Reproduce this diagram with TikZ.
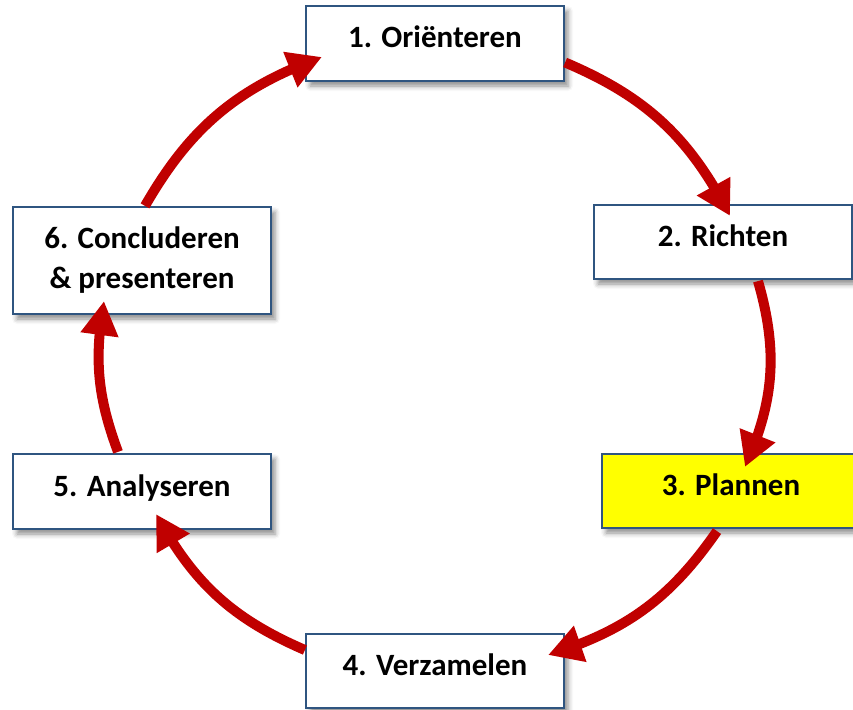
\documentclass[tikz,border=0pt]{standalone}
\usepackage{fontspec}
\setmainfont{Carlito}
\usetikzlibrary{arrows.meta,bending,shadows.blur}
\definecolor{boxblue}{RGB}{47,85,128}
\definecolor{arrred}{RGB}{192,0,0}
\definecolor{boxyellow}{RGB}{255,255,0}
\begin{document}
\begin{tikzpicture}[x=1pt,y=-1pt,
  basebox/.style={draw=boxblue, line width=2.2pt, fill=white,
    minimum width=258pt, minimum height=74pt, inner sep=0pt,
    font=\bfseries\fontsize{31}{40}\selectfont,
    blur shadow={shadow xshift=4pt, shadow yshift=-5pt, shadow blur radius=5pt, shadow opacity=45}},
  stepbox/.style={basebox, text height=20pt, text depth=11pt},
  cyc/.style={draw=arrred, line width=10pt, -{Triangle[length=34pt,width=36pt,flex]}}]
\useasboundingbox (0,0) rectangle (853,709);
\clip (0,0) rectangle (853,709);
\node[stepbox, minimum height=75pt] (o) at (435,43.5) {1. Oriënteren};
\node[stepbox] (r) at (723,242) {2. Richten};
\node[stepbox, fill=boxyellow] (p) at (731,491) {3. Plannen};
\node[stepbox] (v) at (435,671) {4. Verzamelen};
\node[stepbox, minimum height=75pt] (a) at (142,491.5) {5. Analyseren};
\node[basebox, minimum height=107pt, align=center] (c) at (142,260.5) {6. Concluderen\\\& presenteren};
\draw[cyc] ([shift={(0,19)}]o.east) to[bend left=20] ([shift={(7,12)}]r.north);
\draw[cyc] ([shift={(35,1)}]r.south) to[bend left=20] ([shift={(14,14)}]p.north);
\draw[cyc] ([shift={(-14,2)}]p.south) to[bend left=19] ([shift={(-17,-16)}]v.east);
\draw[cyc] ([shift={(0,-21)}]v.west) to[bend left=19] ([shift={(14,-16)}]a.south);
\draw[cyc] ([shift={(-24,-1)}]a.north) to[bend left=15] ([shift={(-38,-14)}]c.south);
\draw[cyc] ([shift={(3,0)}]c.north) to[bend left=20] ([shift={(17,13.5)}]o.west);
\end{tikzpicture}
\end{document}
